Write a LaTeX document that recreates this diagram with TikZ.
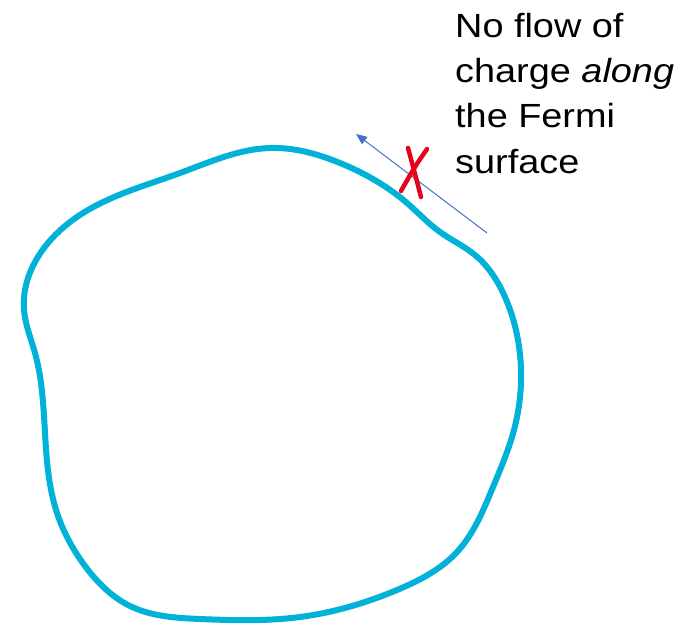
\documentclass[tikz,border=0pt]{standalone}
\usepackage{fontspec}
\setmainfont[FakeStretch=1.13]{Liberation Sans}
\usetikzlibrary{arrows.meta,hobby}
\definecolor{fermi}{RGB}{0,178,216}
\definecolor{arrowblue}{RGB}{68,114,196}
\definecolor{xred}{RGB}{230,0,30}
\tikzset{
  fermiline/.style={draw=fermi, line width=6pt, line join=round},
  flowarrow/.style={draw=arrowblue, line width=1pt, -{Triangle[length=11pt,width=9pt]}},
  xstroke/.style={draw=xred, line width=4.5pt, line cap=round},
  label/.style={anchor=base west, align=left, inner sep=0pt, font=\fontsize{33.5}{45.3}\selectfont}
}
\begin{document}
\begin{tikzpicture}[x={(1pt,0pt)}, y={(0pt,-1pt)}]
\useasboundingbox (0,0) rectangle (696,624);
\draw[fermiline, use Hobby shortcut, closed=true]
(270,148) .. (340,163) .. (407,203) .. (440,232) .. (475,255) .. (505,297) .. (521,370) .. (514,430) .. (493,487) .. (457,552) .. (397,590) .. (300,617) .. (200,619) .. (130,606) .. (85,566) .. (57,513) .. (45,433) .. (35,353) .. (24,310) .. (35,262) .. (83,213) .. (180,173);
\coordinate (tail) at (487,233);
\coordinate (head) at (356,134);
\draw[flowarrow] (tail) -- (head);
\coordinate (x1a) at (427,149);
\coordinate (x1b) at (401,191);
\coordinate (x2a) at (408,148);
\coordinate (x2b) at (421,197);
\draw[xstroke] (x1a) .. controls (414,168) .. (x1b);
\draw[xstroke] (x2a) .. controls (414,170) .. (x2b);
\node[label] (txt) at (455,173) {No flow of\\charge \textit{along}\\the Fermi\\surface};
\end{tikzpicture}
\end{document}
